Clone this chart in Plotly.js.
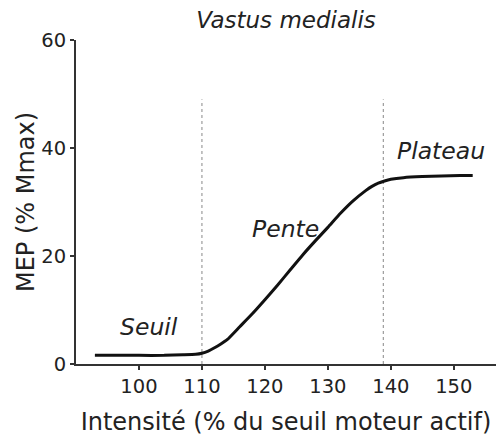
<!DOCTYPE html>
<html>
<head>
<meta charset="utf-8">
<script src="https://cdn.plot.ly/plotly-3.0.1.min.js"></script>
<style>html,body{margin:0;padding:0;background:#fff;}#chart{width:496px;height:436px;}</style>
</head>
<body>
<div id="chart"></div>
<script>
// Intensity (% of active motor threshold)
const intensity = [93, 96, 100, 104, 107, 109, 110, 111, 112, 113, 114, 116, 118, 120, 122, 124, 126, 128, 130, 132, 134, 136, 137, 138, 139, 140, 142, 145, 148, 151, 153];
// MEP (% Mmax)
const mep = [1.6, 1.6, 1.6, 1.6, 1.7, 1.8, 2.0, 2.4, 3.0, 3.7, 4.5, 6.9, 9.3, 11.9, 14.6, 17.4, 20.2, 22.8, 25.3, 27.9, 30.2, 32.1, 32.9, 33.5, 33.9, 34.2, 34.5, 34.7, 34.8, 34.9, 34.9];
// Dotted phase boundaries
const boundaryX = [110, 138.8];
const boundaryTop = 49;
// Phase labels
const phaseLabels = ["Seuil", "Pente", "Plateau"];
const phaseX = [101.6, 123.3, 147.9];
const phaseY = [6.8, 25.0, 39.5];
const xTicks = [100, 110, 120, 130, 140, 150];
const yTicks = [0, 20, 40, 60];

const FONT = "DejaVu Sans, Verdana, sans-serif";
const traces = [];
boundaryX.forEach(bx => {
  traces.push({x: [bx, bx], y: [0, boundaryTop], mode: "lines", type: "scatter",
    line: {color: "#888", width: 1, dash: "dot"}, hoverinfo: "skip", showlegend: false});
});
traces.push({x: intensity, y: mep, mode: "lines", type: "scatter",
  line: {color: "#111", width: 3, shape: "spline", smoothing: 0.5}, showlegend: false});

const annotations = phaseLabels.map((t, i) => ({
  x: phaseX[i], y: phaseY[i], xref: "x", yref: "y", text: "<i>" + t + "</i>",
  showarrow: false, xanchor: "center", yanchor: "middle",
  font: {family: FONT, size: 23.5, color: "#222"}
}));

const layout = {
  width: 496, height: 436,
  margin: {l: 76, r: 0, t: 40, b: 72},
  paper_bgcolor: "#fff", plot_bgcolor: "#fff",
  font: {family: FONT, color: "#222"},
  title: {text: "<i>Vastus medialis</i>", font: {family: FONT, size: 23, color: "#222"},
    x: 0.5, xref: "paper", y: 1 - 20 / 436, yref: "container", yanchor: "middle"},
  xaxis: {range: [90, 156.7], tickvals: xTicks, ticktext: xTicks.map(String),
    showgrid: false, zeroline: false, showline: true, linecolor: "#333", linewidth: 2,
    ticks: "outside", ticklen: 4, tickwidth: 1.5, tickcolor: "#333",
    tickfont: {family: FONT, size: 19.5, color: "#222"},
    title: {text: "Intensité (% du seuil moteur actif)", font: {family: FONT, size: 24, color: "#222"}, standoff: 19}},
  yaxis: {range: [0, 60], tickvals: yTicks, ticktext: yTicks.map(String),
    showgrid: false, zeroline: false, showline: true, linecolor: "#333", linewidth: 2,
    ticks: "outside", ticklen: 4, tickwidth: 1.5, tickcolor: "#333",
    tickfont: {family: FONT, size: 19.5, color: "#222"},
    title: {text: "MEP (% Mmax)", font: {family: FONT, size: 24, color: "#222"}, standoff: 0}},
  annotations: annotations,
  showlegend: false
};
Plotly.newPlot("chart", traces, layout, {staticPlot: true, displayModeBar: false});
</script>
</body>
</html>
